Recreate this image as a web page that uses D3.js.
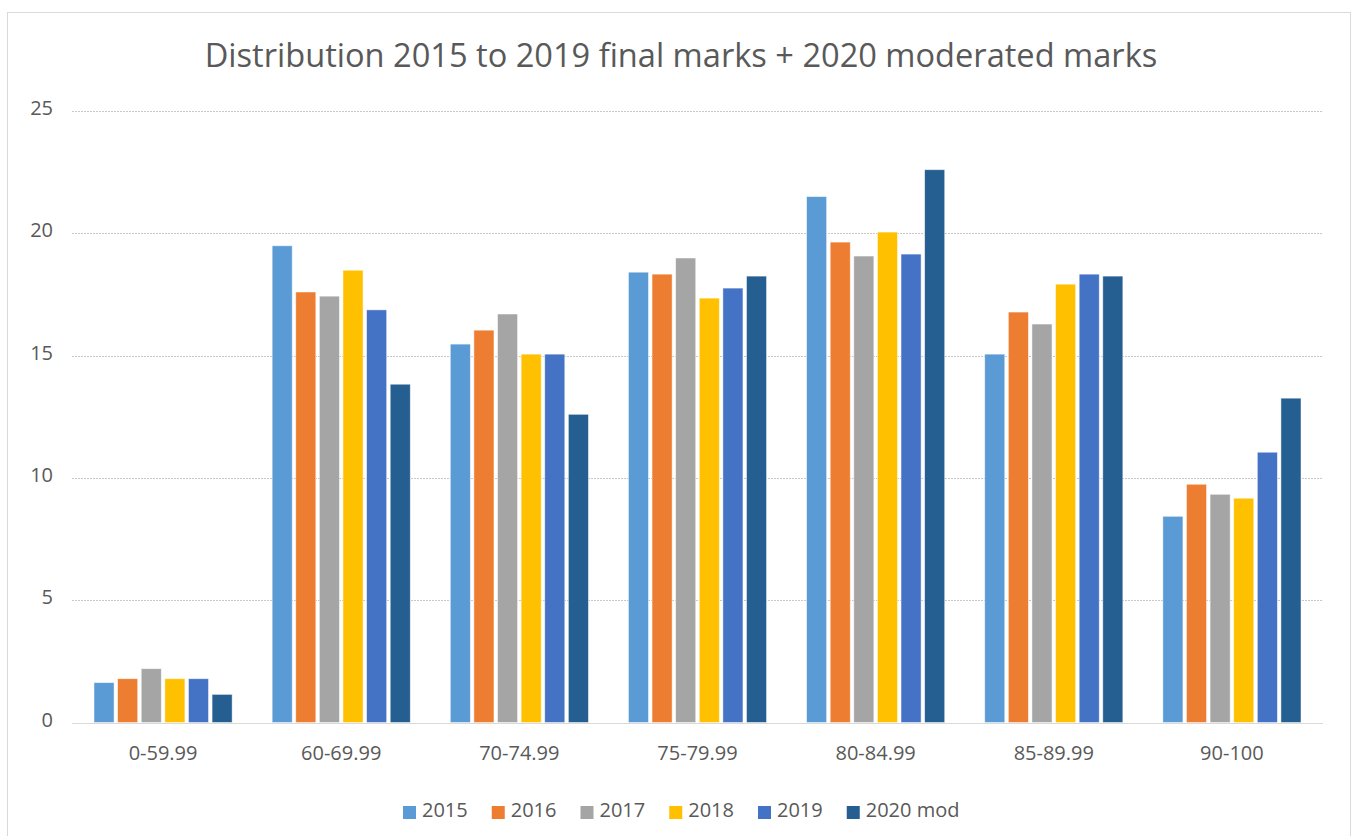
<!DOCTYPE html>
<html>
<head>
<meta charset="utf-8">
<script src="https://cdn.jsdelivr.net/npm/d3@7"></script>
<style>
  body { margin: 0; background: #fff; }
  text { font-family: "Open Sans", "Noto Sans", sans-serif; fill: #595959; }
</style>
</head>
<body>
<svg id="chart"></svg>
<script>
// categories + series
let categories = ['0-59.99', '60-69.99', '70-74.99', '75-79.99', '80-84.99', '85-89.99', '90-100']
let seriesNames = ['2015', '2016', '2017', '2018', '2019', '2020 mod']
let v2015 = [1.63, 19.49, 15.47, 18.41, 21.5, 15.06, 8.43]
let v2016 = [1.79, 17.6, 16.04, 18.33, 19.64, 16.78, 9.74]
let v2017 = [2.2, 17.43, 16.7, 18.99, 19.07, 16.29, 9.33]
let v2018 = [1.79, 18.49, 15.06, 17.35, 20.05, 17.92, 9.17]
let v2019 = [1.79, 16.87, 15.06, 17.76, 19.15, 18.33, 11.05]
let v2020 = [1.15, 13.83, 12.6, 18.25, 22.6, 18.25, 13.26]
let yTicks = [0, 5, 10, 15, 20, 25]
let colors = ['#5B9BD5', '#ED7D31', '#A5A5A5', '#FFC000', '#4472C4', '#255E91']

let allSeries = [v2015, v2016, v2017, v2018, v2019, v2020]

let svgWidth = 1355
let svgHeight = 836
let svg = d3.select('#chart')
    .attr('width', svgWidth)
    .attr('height', svgHeight)

// chart frame
svg.append('rect')
    .attr('x', 7.5).attr('y', 12.5)
    .attr('width', 1343).attr('height', 840)
    .attr('fill', '#fff')
    .attr('stroke', '#d9d9d9')

let plotLeft = 74, plotRight = 1321
let x0 = d3.scaleBand().domain(categories).range([plotLeft, plotRight])
let x1 = d3.scaleBand().domain(seriesNames).range([20, x0.bandwidth() - 20]).paddingInner(0.15)
let y = d3.scaleLinear().domain([0, 25]).range([722.5, 111])
let color = d3.scaleOrdinal().domain(seriesNames).range(colors)

// gridlines
svg.append('g').selectAll('line')
    .data(yTicks.filter(d => d > 0))
    .enter().append('line')
    .attr('x1', plotLeft - 2).attr('x2', plotRight + 2)
    .attr('y1', d => Math.round(y(d)) + 0.5).attr('y2', d => Math.round(y(d)) + 0.5)
    .attr('stroke', '#c8c8c8')
    .attr('stroke-dasharray', '2,1')

// y labels
svg.append('g').selectAll('text')
    .data(yTicks)
    .enter().append('text')
    .attr('x', 53)
    .attr('y', d => y(d) + 4)
    .attr('text-anchor', 'end')
    .style('font-size', '20px')
    .text(d => d)

// bars
let groups = svg.append('g').selectAll('g')
    .data(categories)
    .enter().append('g')
    .attr('transform', d => 'translate(' + x0(d) + ',0)')

groups.selectAll('rect')
    .data((c, i) => seriesNames.map((s, j) => ({ s: s, v: allSeries[j][i] })))
    .enter().append('rect')
    .attr('x', d => x1(d.s))
    .attr('y', d => y(d.v))
    .attr('width', x1.bandwidth())
    .attr('height', d => y(0) - y(d.v))
    .attr('fill', d => color(d.s))
    .attr('stroke', '#ffffff')
    .attr('stroke-opacity', 0.6)
    .attr('stroke-width', 0.8)

// x axis line
svg.append('line')
    .attr('x1', plotLeft - 2).attr('x2', plotRight + 2)
    .attr('y1', 723.5).attr('y2', 723.5)
    .attr('stroke', '#d9d9d9')

// category labels
svg.append('g').selectAll('text')
    .data(categories)
    .enter().append('text')
    .attr('x', d => x0(d) + x0.bandwidth() / 2)
    .attr('y', 760)
    .attr('text-anchor', 'middle')
    .style('font-size', '20px')
    .text(d => d)

// title
let title = svg.append('text')
    .attr('x', 681)
    .attr('y', 67)
    .attr('text-anchor', 'middle')
    .style('font-size', '28px')
    .text('Distribution 2015 to 2019 final marks + 2020 moderated marks')
let tw = title.node().getComputedTextLength()
title.style('font-size', (28 * 953 / tw).toFixed(2) + 'px')

// legend, laid out by text width
let legend = svg.append('g').attr('transform', 'translate(403,0)')
let lx = 0
seriesNames.forEach(s => {
    legend.append('rect')
        .attr('x', lx).attr('y', 806)
        .attr('width', 13).attr('height', 13)
        .attr('fill', color(s))
    let t = legend.append('text')
        .attr('x', lx + 19).attr('y', 817)
        .style('font-size', '20px')
        .text(s)
    lx += 19 + t.node().getComputedTextLength() + 24
})
</script>
</body>
</html>
